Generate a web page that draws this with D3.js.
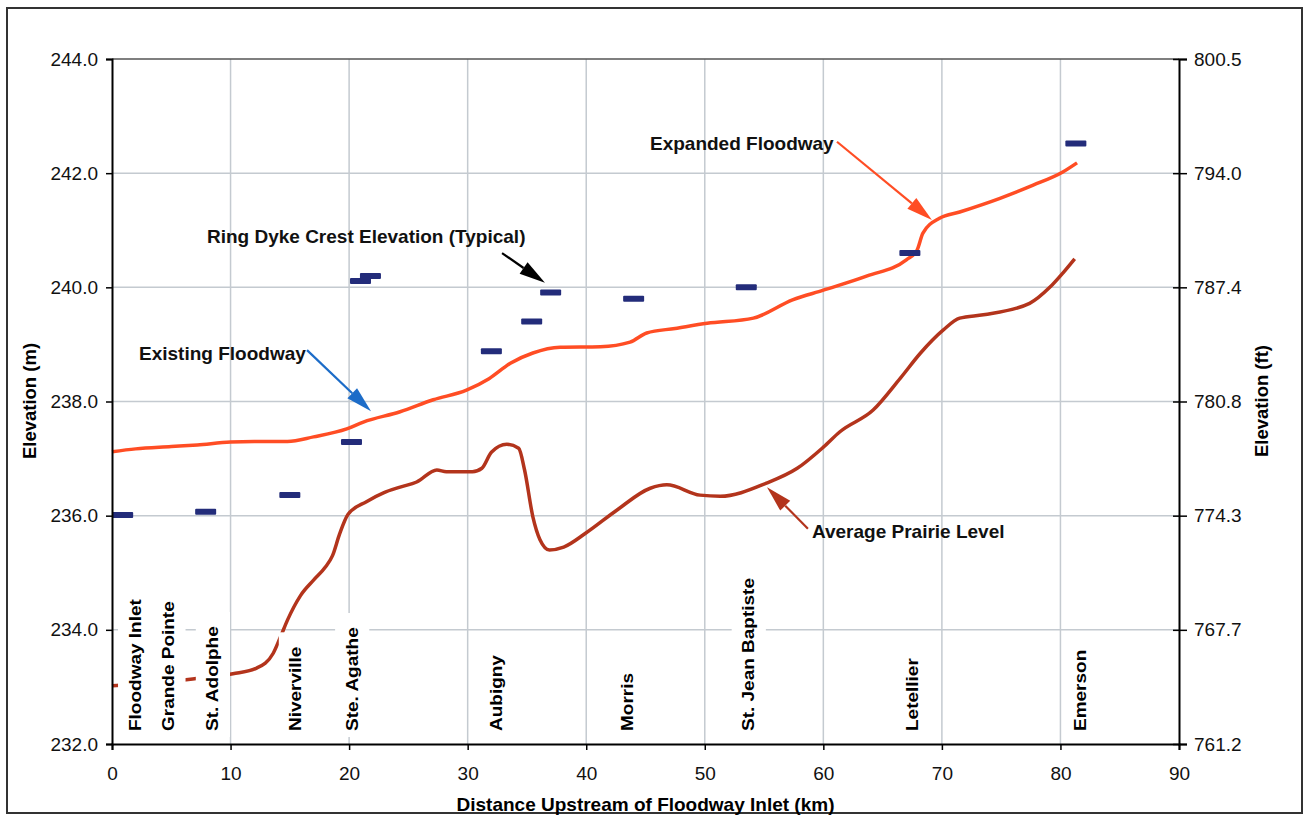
<!DOCTYPE html>
<html><head><meta charset="utf-8">
<script src="https://cdn.jsdelivr.net/npm/d3@7"></script>
<style>body{margin:0;background:#fff}svg{display:block}</style>
</head><body>
<svg id="c" width="1305" height="815"></svg>
<script>
// ---------- DATA ----------
const xTicks = [0,10,20,30,40,50,60,70,80,90];
const yTicksM = [232,234,236,238,240,242,244];
const yTickLabelsM = ["232.0","234.0","236.0","238.0","240.0","242.0","244.0"];
const yTickLabelsFt = ["761.2","767.7","774.3","780.8","787.4","794.0","800.5"];

// Existing / Expanded floodway water level (km, m)
const floodwayKm = [0,2,5,7.2,10,12,14.8,17,19.8,21.2,24.3,27.1,29.9,31.8,33.6,35.5,37.8,41.2,43.7,45.1,47.5,50.2,54.1,57.4,60,63.7,67.0,67.9,68.4,69.8,71.5,74.9,77.7,80.2,81.4];
const floodwayM  = [237.12,237.17,237.21,237.24,237.29,237.30,237.30,237.38,237.52,237.64,237.82,238.03,238.20,238.40,238.67,238.85,238.95,238.96,239.04,239.20,239.28,239.37,239.46,239.78,239.95,240.20,240.48,240.65,240.95,241.21,241.32,241.56,241.79,242.02,242.18];

// Average prairie level (km, m)
const prairieKm = [0,3,6.8,10.2,12.2,13.6,14.2,14.8,15.9,17.0,18.0,18.6,19.2,19.9,21.5,22.9,24.3,25.7,27.4,28.2,30.4,31.2,32.0,33.3,34.3,34.8,35.5,36.1,36.9,38.1,40.0,42.6,45.4,46.8,49.6,51.3,55.2,57.8,60.0,61.4,64.2,66.5,68.2,70.1,71.5,73.5,77.4,79.1,80.2,81.2];
const prairieM  = [233.02,233.07,233.14,233.23,233.33,233.59,233.87,234.17,234.60,234.87,235.10,235.30,235.68,236.02,236.25,236.40,236.50,236.59,236.80,236.77,236.77,236.83,237.11,237.25,237.18,236.80,235.98,235.58,235.40,235.45,235.70,236.10,236.48,236.54,236.36,236.34,236.57,236.83,237.20,237.47,237.85,238.41,238.85,239.25,239.46,239.52,239.72,240.00,240.25,240.50];

// Ring dyke crest elevations (km, m)
const dykeKm = [0.9,7.9,15.0,20.2,20.96,21.8,32.0,35.4,37.0,44.0,53.5,67.3,81.3];
const dykeM  = [236.01,236.07,236.36,237.29,240.11,240.20,238.88,239.40,239.91,239.80,240.00,240.60,242.52];

// Towns along the river
const townNames = ["Floodway Inlet","Grande Pointe","St. Adolphe","Niverville","Ste. Agathe","Aubigny","Morris","St. Jean Baptiste","Letellier","Emerson"];
const townKm    = [1.94,4.75,8.5,15.5,20.25,32.4,43.5,53.7,67.5,81.7];

// Annotations: text anchor (km, m) and arrow from/to (km, m)
const annTexts = ["Expanded Floodway","Ring Dyke Crest Elevation (Typical)","Existing Floodway","Average Prairie Level"];
const annTextPos = [[45.38,242.53],[8.01,240.90],[2.28,238.85],[59.04,235.73]];
const annFrom = [[61.15,242.55],[32.9,240.60],[16.45,238.90],[58.7,235.77]];
const annTo   = [[69.16,241.18],[36.52,240.08],[21.85,237.83],[55.25,236.50]];

// ---------- CHART ----------
const FONT = "'Liberation Sans', Arial, Helvetica, sans-serif";
const svg = d3.select('#c').style('font-family', FONT);
const L=112, R=1179, T=59, B=744;
const x = d3.scaleLinear().domain([0,90]).range([L,R]);
const y = d3.scaleLinear().domain([232,244]).range([B,T]);
const FT = 3.28084;
const yFt = d3.scaleLinear().domain([232*FT,244*FT]).range([B,T]);

const colFlood = '#ff4d24', colPrairie = '#b3341c', colDyke = '#232c7a', colBlue = '#1c6cc8', gridCol = '#c4cad0';

// outer frame
svg.append('rect').attr('x',7).attr('y',8).attr('width',1295).attr('height',805)
  .attr('fill','none').attr('stroke','#333').attr('stroke-width',2);

// grid
const grid = svg.append('g');
grid.selectAll('line.v').data(xTicks.slice(1,-1)).join('line')
  .attr('x1',d=>x(d)).attr('x2',d=>x(d)).attr('y1',T).attr('y2',B)
  .attr('stroke',gridCol).attr('stroke-width',1.5);
grid.selectAll('line.h').data(yTicksM.slice(1,-1)).join('line')
  .attr('x1',L).attr('x2',R).attr('y1',d=>y(d)).attr('y2',d=>y(d))
  .attr('stroke',gridCol).attr('stroke-width',1.5);
grid.append('line').attr('x1',L).attr('x2',R).attr('y1',y(244)).attr('y2',y(244))
  .attr('stroke','#555').attr('stroke-width',1.5);

// lines
const lineGen = d3.line().x(d=>x(d[0])).y(d=>y(d[1])).curve(d3.curveMonotoneX);
const flood = floodwayKm.map((k,i)=>[k,floodwayM[i]]);
const prairie = prairieKm.map((k,i)=>[k,prairieM[i]]);
svg.append('path').datum(prairie).attr('d',lineGen).attr('fill','none')
  .attr('stroke',colPrairie).attr('stroke-width',3.5).attr('stroke-linejoin','round');
svg.append('path').datum(flood).attr('d',lineGen).attr('fill','none')
  .attr('stroke',colFlood).attr('stroke-width',3.5).attr('stroke-linejoin','round');

// ring dyke markers
svg.append('g').selectAll('rect').data(dykeKm.map((k,i)=>[k,dykeM[i]])).join('rect')
  .attr('x',d=>x(d[0])-10.5).attr('y',d=>y(d[1])-3).attr('width',21).attr('height',6)
  .attr('rx',1).attr('fill',colDyke);

// town labels with white boxes
const tg = svg.append('g');
const SC = 0.84;
townNames.forEach((name,i)=>{
  const g = tg.append('g').attr('transform',`translate(${x(townKm[i])},731) rotate(-90) scale(1,${SC})`);
  const t = g.append('text').attr('x',0).attr('y',0).attr('dy','0.35em')
    .attr('font-size',19).attr('font-weight','bold').attr('fill','#000').text(name);
  const bb = t.node().getBBox();
  g.insert('rect','text').attr('x',bb.x-6).attr('width',bb.width+20)
    .attr('y',bb.y-8/SC).attr('height',bb.height+16/SC).attr('fill','#fff');
});

// axes
const axL = svg.append('g').attr('transform',`translate(${L},0)`)
  .call(d3.axisLeft(y).tickValues(yTicksM).tickFormat((d,i)=>yTickLabelsM[i]).tickSize(6).tickPadding(8));
const axB = svg.append('g').attr('transform',`translate(0,${B})`)
  .call(d3.axisBottom(x).tickValues(xTicks).tickSize(6).tickPadding(17));
const axR = svg.append('g').attr('transform',`translate(${R},0)`)
  .call(d3.axisRight(yFt).tickValues(yTicksM.map(v=>v*FT)).tickFormat((d,i)=>yTickLabelsFt[i]).tickSize(8).tickPadding(7));
axR.selectAll('.tick').append('line').attr('x1',-6).attr('x2',0).attr('stroke','#000').attr('stroke-width',1.5);
[axL,axB,axR].forEach(a=>{
  a.select('.domain').attr('stroke','#000').attr('stroke-width',2);
  a.selectAll('.tick line').attr('stroke','#000').attr('stroke-width',1.5);
  a.selectAll('.tick text').attr('font-size',19).attr('font-family',FONT).attr('fill','#111');
});

// axis titles
svg.append('text').attr('transform',`translate(30,401) rotate(-90)`).attr('text-anchor','middle')
  .attr('dy','0.35em').attr('font-size',18.5).attr('font-weight','bold').text('Elevation (m)');
svg.append('text').attr('transform',`translate(1262,401) rotate(-90)`).attr('text-anchor','middle')
  .attr('dy','0.35em').attr('font-size',18.5).attr('font-weight','bold').text('Elevation (ft)');
svg.append('text').attr('x',(L+R)/2).attr('y',811).attr('text-anchor','middle')
  .attr('font-size',19).attr('font-weight','bold').text('Distance Upstream of Floodway Inlet (km)');

// annotations
const annColors = [colFlood,'#000',colBlue,colPrairie];
function arrow(x1,y1,x2,y2,color){
  const ang = Math.atan2(y2-y1,x2-x1);
  const hl = 26, hw = 7;
  const bx = x2 - hl*Math.cos(ang), by = y2 - hl*Math.sin(ang);
  svg.append('line').attr('x1',x1).attr('y1',y1).attr('x2',bx).attr('y2',by)
    .attr('stroke',color).attr('stroke-width',2.2);
  const px = -Math.sin(ang)*hw, py = Math.cos(ang)*hw;
  svg.append('polygon').attr('points',`${x2},${y2} ${bx+px},${by+py} ${bx-px},${by-py}`).attr('fill',color);
}
annTexts.forEach((txt,i)=>{
  svg.append('text').attr('x',x(annTextPos[i][0])).attr('y',y(annTextPos[i][1])).attr('dy','0.35em')
    .attr('font-size',19).attr('font-weight','bold').attr('fill','#111').text(txt);
  arrow(x(annFrom[i][0]),y(annFrom[i][1]),x(annTo[i][0]),y(annTo[i][1]),annColors[i]);
});
</script>
</body></html>
